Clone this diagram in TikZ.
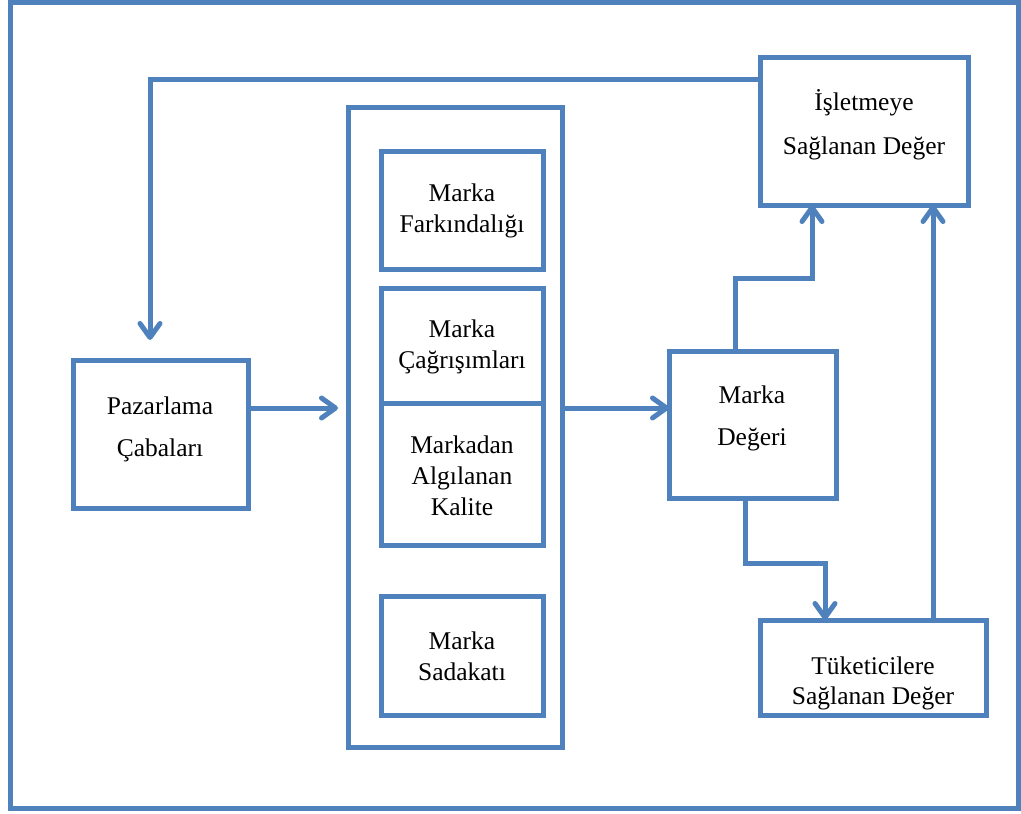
\documentclass[tikz,border=0pt]{standalone}
\usepackage{fontspec}
\setmainfont{Liberation Serif}
\usetikzlibrary{arrows.meta}
\definecolor{lineblue}{HTML}{4F81BD}
\tikzset{
  box/.style={draw=lineblue, line width=5pt, fill=white, inner sep=0pt, outer sep=0pt},
  lbl/.style={font=\fontsize{25.5}{31}\selectfont, align=center, inner sep=0pt},
  flow/.style={draw=lineblue, line width=5pt,
    -{Straight Barb[length=14pt,width=20pt,line cap=round,line join=round]}},
}
\begin{document}
\begin{tikzpicture}[x=1pt,y=-1pt]
\useasboundingbox (0,0) rectangle (1021,814);
% outer frame
\draw[lineblue, line width=5pt] (10,2) rectangle (1018,808);

% boxes
\node (pazBox) [box, minimum width=175pt, minimum height=148pt, anchor=north west] at (73,360) {};
\node (col) [box, minimum width=214pt, minimum height=640pt, anchor=north west] at (348,107) {};
\node (fark) [box, minimum width=162pt, minimum height=118pt, anchor=north west] at (381,151) {};
\node (cag) [box, minimum width=162pt, minimum height=115pt, anchor=north west] at (381,288) {};
\node (kal) [box, minimum width=162pt, minimum height=142pt, anchor=north west] at (381,403) {};
\node (sad) [box, minimum width=162pt, minimum height=119pt, anchor=north west] at (381,596) {};
\node (deg) [box, minimum width=167pt, minimum height=147pt, anchor=north west] at (669,351) {};
\node (isl) [box, minimum width=208pt, minimum height=148pt, anchor=north west] at (760,57) {};
\node (tuk) [box, minimum width=226pt, minimum height=95pt, anchor=north west] at (760,620) {};

% texts
\node[lbl] (t1) at (160,406) {Pazarlama};
\node[lbl] (t2) at (160,450) {Çabaları};
\node[lbl] (t3) at (462,211) {Marka\\Farkındalığı};
\node[lbl] (t4) at (462,347) {Marka\\Çağrışımları};
\node[lbl] (t5) at (462,476) {Markadan\\Algılanan\\Kalite};
\node[lbl] (t6) at (462,656) {Marka\\Sadakatı};
\node[lbl] (t7) at (752,395) {Marka};
\node[lbl] (t8) at (752,440) {Değeri};
\node[lbl] (t9) at (864,103) {İşletmeye};
\node[lbl] (t10) at (864,148) {Sağlanan Değer};
\begin{scope}
  \clip (763,623) rectangle (983,710);
  \node[lbl] (t11) at (873,666) {Tüketicilere};
  \node[lbl] (t12) at (873,698) {Sağlanan Değer};
\end{scope}
\draw[lineblue, line width=5pt] (tuk.north west) rectangle (tuk.south east);

% connectors
\coordinate (fbTop) at (150,79);
\coordinate (fbTip) at (150,340);
\draw[flow] (isl.west |- fbTop) -- (fbTop) -- (fbTip);
\draw[flow] (pazBox.east |- 0,408) -- (338,408);
\draw[flow] (col.east |- 0,408) -- (deg.west |- 0,408);
\coordinate (up1) at (735,278);
\coordinate (up2) at (812,278);
\draw[flow] (deg.north -| up1) -- (up1) -- (up2) -- (isl.south -| up2);
\coordinate (rt) at (933,0);
\draw[flow] (tuk.north -| rt) -- (isl.south -| rt);
\coordinate (dn1) at (745,563);
\coordinate (dn2) at (825,563);
\draw[flow] (deg.south -| dn1) -- (dn1) -- (dn2) -- (tuk.north -| dn2);
\end{tikzpicture}
\end{document}
